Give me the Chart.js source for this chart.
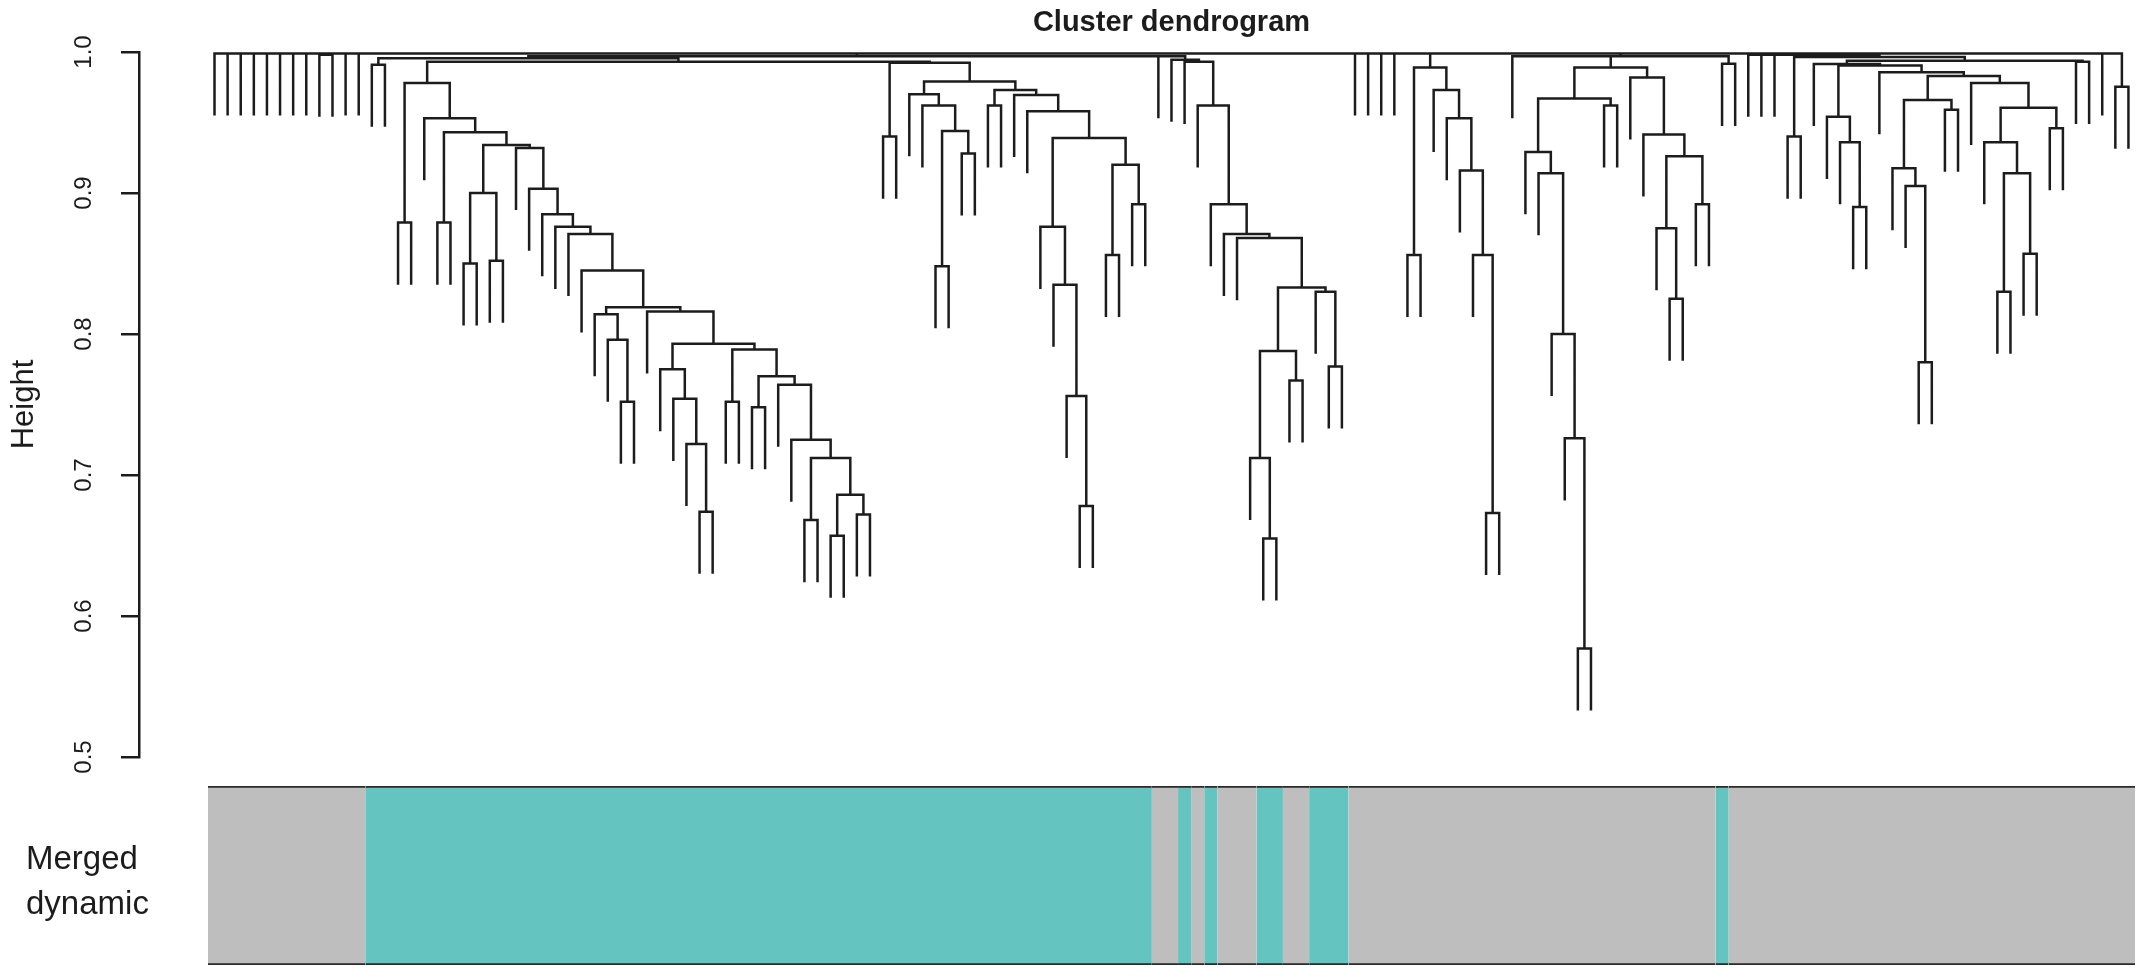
<!DOCTYPE html>
<html>
<head>
<meta charset="utf-8">
<title>Cluster dendrogram</title>
<script src="https://cdn.jsdelivr.net/npm/chart.js@4.4.1/dist/chart.umd.min.js"></script>
<style>
  html, body { margin: 0; padding: 0; background: #fff; }
  #wrap { position: relative; width: 2150px; height: 979px; overflow: hidden; }
  #wrap canvas { position: absolute; left: 0; }
  #dendro { top: 0; }
  #colors { top: 780px; }
</style>
</head>
<body>
<div id="wrap">
  <canvas id="dendro" width="2150" height="780"></canvas>
  <canvas id="colors" width="2150" height="199"></canvas>
</div>
<script>
const FONT = '"Liberation Sans", Arial, Helvetica, sans-serif';
const INK = '#1c1c1c';

// Height axis
const heightTicks = [0.5, 0.6, 0.7, 0.8, 0.9, 1.0];
const HANG = 0.044;  // how far a leaf drops below the merge it hangs from

// Dendrogram, read left to right.
// A node is [merge height, ...children]; 0 stands for a single leaf.
const stairTail   = [0.712, [0.668, 0, 0], [0.686, [0.657, 0, 0], [0.672, 0, 0]]];
const stairLow    = [0.789, [0.752, 0, 0], [0.770, [0.748, 0, 0], [0.764, 0, [0.725, 0, stairTail]]]];
const stairRight  = [0.816, 0, [0.793, [0.775, 0, [0.754, 0, [0.722, 0, [0.674, 0, 0]]]], stairLow]];
const stairMid    = [0.819, [0.814, 0, [0.796, 0, [0.752, 0, 0]]], stairRight];
const stairUpper  = [0.885, 0, [0.876, 0, [0.871, 0, [0.845, 0, stairMid]]]];
const staircase   = [0.978, [0.879, 0, 0],
                      [0.953, 0, [0.943, [0.879, 0, 0],
                        [0.934, [0.900, [0.850, 0, 0], [0.852, 0, 0]], [0.932, 0, [0.903, 0, stairUpper]]]]]];

const midRight    = [0.939, [0.876, 0, [0.835, 0, [0.756, 0, [0.678, 0, 0]]]], [0.920, [0.856, 0, 0], [0.892, 0, 0]]];
const midClade    = [0.979,
                      [0.970, 0, [0.962, 0, [0.944, [0.848, 0, 0], [0.928, 0, 0]]]],
                      [0.973, [0.962, 0, 0], [0.9695, 0, [0.958, 0, midRight]]]];

const turquoiseGroup = [0.9955, [0.991, 0, 0], [0.993, staircase, [0.9924, [0.940, 0, 0], midClade]]];

const smallClade  = [0.962, 0, [0.892, 0, [0.871, 0, [0.868, 0,
                      [0.833, [0.788, [0.712, 0, [0.655, 0, 0]], [0.767, 0, 0]], [0.830, 0, [0.777, 0, 0]]]]]]];
const groupA      = [0.997, turquoiseGroup, 0, [0.9945, 0, [0.993, 0, smallClade]]];

const deepClade   = [0.989, [0.856, 0, 0], [0.973, 0, [0.953, 0, [0.916, 0, [0.856, 0, [0.673, 0, 0]]]]]];

const lowestClade = [0.989,
                      [0.967, [0.929, 0, [0.914, 0, [0.800, 0, [0.726, 0, [0.577, 0, 0]]]]], [0.962, 0, 0]],
                      [0.982, 0, [0.9415, 0, [0.926, [0.875, 0, [0.825, 0, 0]], [0.892, 0, 0]]]]];
const groupB      = [0.997, 0, lowestClade, [0.9916, 0, 0]];

const rightClade  = [0.983,
                      [0.966, [0.9175, 0, [0.905, 0, [0.780, 0, 0]]], [0.959, 0, 0]],
                      [0.978, 0, [0.9605, [0.936, 0, [0.914, [0.830, 0, 0], [0.857, 0, 0]]], [0.946, 0, 0]]]];
const rightGroup  = [0.9915, 0, [0.9905, [0.954, 0, [0.936, 0, [0.890, 0, 0]]], [0.9856, 0, rightClade]]];
const groupC      = [0.998, 0, 0, 0, [0.9965, [0.940, 0, 0], [0.9938, rightGroup, [0.993, 0, 0]]]];

const tree = [0.999, 0, 0, 0, 0, 0, 0, 0, 0, [0.998, 0, 0], 0, 0,
              groupA, 0, 0, 0, 0, deepClade, groupB, groupC, 0, [0.9754, 0, 0]];

// Module colour strip under the leaves: run lengths (in leaves) and colours
const moduleRuns   = [12, 60, 2, 1, 1, 1, 3, 2, 2, 3, 28, 1, 31];
const moduleColors = ['grey', 'turquoise', 'grey', 'turquoise', 'grey', 'turquoise', 'grey',
                      'turquoise', 'grey', 'turquoise', 'grey', 'turquoise', 'grey'];
const colorHex = { grey: '#bebebe', turquoise: '#64c5c0' };

// Turn the tree into line points (null breaks the line between links)
function dendroPoints(root) {
  const pts = [];
  let leaf = 0;
  function walk(node) {
    if (node === 0) { leaf += 1; return { x: leaf, top: null }; }
    const h = node[0];
    const kids = node.slice(1).map(walk);
    const low = k => (k.top === null ? h - HANG : k.top);
    const a = kids[0], b = kids[kids.length - 1];
    pts.push({ x: a.x, y: low(a) }, { x: a.x, y: h }, { x: b.x, y: h }, { x: b.x, y: low(b) }, { x: null, y: null });
    kids.slice(1, -1).forEach(k => pts.push({ x: k.x, y: h }, { x: k.x, y: low(k) }, { x: null, y: null }));
    return { x: (a.x + b.x) / 2, top: h };
  }
  walk(root);
  return { pts, leaves: leaf };
}

const dendro = dendroPoints(tree);
const nLeaves = dendro.leaves;
const AXIS_GAP = 5.26;  // space between height axis and first leaf, in leaf widths

const mainTitle = {
  id: 'mainTitle',
  afterDraw(chart) {
    const { ctx } = chart;
    const x = chart.scales.x.getPixelForValue((nLeaves + 1) / 2);
    ctx.save();
    ctx.font = 'bold 29px ' + FONT;
    ctx.fillStyle = INK;
    ctx.textAlign = 'center';
    ctx.textBaseline = 'middle';
    ctx.fillText('Cluster dendrogram', x, 23);
    ctx.restore();
  }
};

new Chart(document.getElementById('dendro'), {
  type: 'scatter',
  data: {
    datasets: [{
      data: dendro.pts,
      showLine: true,
      borderColor: INK,
      borderWidth: 2.5,
      borderJoinStyle: 'miter',
      pointRadius: 0,
      pointHoverRadius: 0,
      clip: false
    }]
  },
  options: {
    responsive: false,
    animation: false,
    events: [],
    layout: { padding: { top: 52, right: 15, bottom: 23, left: 0 } },
    scales: {
      x: { type: 'linear', display: false, min: 0.5 - AXIS_GAP, max: nLeaves + 0.5 },
      y: {
        type: 'linear',
        min: 0.5,
        max: 1.0,
        afterBuildTicks(s) { s.ticks = heightTicks.map(v => ({ value: v })); },
        afterFit(s) { s.width = 139; s.paddingTop = 0; s.paddingBottom = 0; },
        border: { display: true, color: INK, width: 2.5 },
        grid: { display: true, drawOnChartArea: false, drawTicks: true, tickLength: 18, color: INK, lineWidth: 2.5 },
        ticks: {
          minRotation: 90,
          maxRotation: 90,
          crossAlign: 'center',
          padding: 20,
          color: INK,
          font: { family: FONT, size: 24 },
          callback: v => Number(v).toFixed(1)
        },
        title: {
          display: true,
          text: 'Height',
          color: INK,
          font: { family: FONT, size: 31 },
          padding: { top: 6, bottom: 0 }
        }
      }
    },
    plugins: { legend: { display: false }, tooltip: { enabled: false } }
  },
  plugins: [mainTitle]
});

let runStart = 0.5;
const stripSets = moduleRuns.map((n, i) => {
  const ds = {
    data: [[runStart, runStart + n]],
    backgroundColor: colorHex[moduleColors[i]],
    borderColor: '#2a2a2a',
    borderWidth: { top: 2, bottom: 2, left: 0, right: 0 },
    borderSkipped: false,
    grouped: false,
    barPercentage: 1,
    categoryPercentage: 1
  };
  runStart += n;
  return ds;
});

new Chart(document.getElementById('colors'), {
  type: 'bar',
  data: { labels: [['Merged', 'dynamic']], datasets: stripSets },
  options: {
    indexAxis: 'y',
    responsive: false,
    animation: false,
    events: [],
    layout: { padding: { top: 6, right: 15, bottom: 14, left: 26 } },
    scales: {
      x: { type: 'linear', display: false, min: 0.5, max: nLeaves + 0.5 },
      y: {
        afterFit(s) { s.width = 182; s.paddingTop = 0; s.paddingBottom = 0; },
        grid: { display: false },
        border: { display: false },
        ticks: { crossAlign: 'far', labelOffset: 7, color: INK, font: { family: FONT, size: 33, lineHeight: 1.35 } }
      }
    },
    plugins: { legend: { display: false }, tooltip: { enabled: false } }
  }
});
</script>
</body>
</html>
